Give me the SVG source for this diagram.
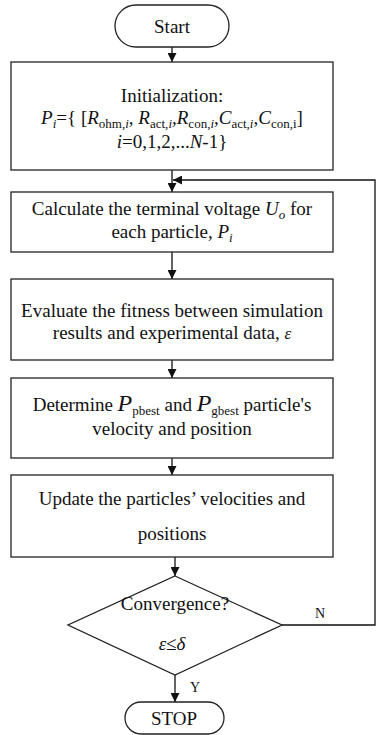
<svg xmlns="http://www.w3.org/2000/svg" width="376" height="735" viewBox="0 0 376 735" font-family="'Liberation Serif', 'Times New Roman', 'DejaVu Serif', serif">
<style>
.box{fill:#fff;stroke:#222;stroke-width:1.3}
.ln{fill:none;stroke:#111;stroke-width:1.3}
text{font-family:'Liberation Serif','Times New Roman','DejaVu Serif',serif;fill:#111;font-size:19px}
.c{text-anchor:middle}
.i{font-style:italic}
.s{font-size:13px}
.sm{font-size:14px}
</style>
<defs>
<marker id="ah" viewBox="0 0 10 10" refX="10" refY="5" markerWidth="9" markerHeight="9" markerUnits="userSpaceOnUse" orient="auto">
<path d="M0,0 L10,5 L0,10 Z" fill="#111"/>
</marker>
</defs>
<g id="connectors">
<line class="ln" x1="172" y1="47" x2="172" y2="62" marker-end="url(#ah)"/>
<line class="ln" x1="172" y1="170" x2="172" y2="192" marker-end="url(#ah)"/>
<polyline class="ln" points="282,625 375,625 375,180 173,180" marker-end="url(#ah)"/>
<line class="ln" x1="172" y1="252" x2="172" y2="279" marker-end="url(#ah)"/>
<line class="ln" x1="172" y1="360" x2="172" y2="378" marker-end="url(#ah)"/>
<line class="ln" x1="172" y1="458" x2="172" y2="475" marker-end="url(#ah)"/>
<line class="ln" x1="175" y1="557" x2="175" y2="576" marker-end="url(#ah)"/>
<line class="ln" x1="175" y1="675" x2="175" y2="702" marker-end="url(#ah)"/>
<text x="320" y="618" class="sm c">N</text>
<text x="195" y="692" class="sm c">Y</text>
</g>
<g id="start">
<rect class="box" x="115" y="5" width="114" height="42" rx="21"/>
<text x="172" y="33" class="c">Start</text>
</g>
<g id="init">
<rect class="box" x="11" y="62" width="322" height="108"/>
<text x="172" y="102" class="c">Initialization:</text>
<text x="172" y="124" class="c"><tspan class="i">P</tspan><tspan class="s i" dy="4">i</tspan><tspan dy="-4">={ [</tspan><tspan class="i">R</tspan><tspan class="s" dy="4">ohm,</tspan><tspan class="s i">i</tspan><tspan dy="-4">, </tspan><tspan class="i">R</tspan><tspan class="s" dy="4">act,</tspan><tspan class="s i">i</tspan><tspan dy="-4">,</tspan><tspan class="i">R</tspan><tspan class="s" dy="4">con,</tspan><tspan class="s i">i</tspan><tspan dy="-4">,</tspan><tspan class="i">C</tspan><tspan class="s" dy="4">act,</tspan><tspan class="s i">i</tspan><tspan dy="-4">,</tspan><tspan class="i">C</tspan><tspan class="s" dy="4">con,i</tspan><tspan dy="-4">]</tspan></text>
<text x="172" y="148" class="c"><tspan class="i">i</tspan>=0,1,2,...<tspan class="i">N</tspan>-1}</text>
</g>
<g id="calc">
<rect class="box" x="11" y="192" width="322" height="60"/>
<text x="172" y="215" class="c">Calculate the terminal voltage <tspan class="i">U</tspan><tspan class="s i" dy="4">o</tspan><tspan dy="-4"> for</tspan></text>
<text x="172" y="238" class="c">each particle, <tspan class="i">P</tspan><tspan class="s i" dy="4">i</tspan></text>
</g>
<g id="evaluate">
<rect class="box" x="11" y="279" width="322" height="81"/>
<text x="172" y="317" class="c">Evaluate the fitness between simulation</text>
<text x="172" y="339" class="c">results and experimental data,  <tspan class="i" font-size="17">ε</tspan></text>
</g>
<g id="determine">
<rect class="box" x="11" y="378" width="322" height="80"/>
<text x="172" y="411" class="c">Determine <tspan class="i" font-size="24">P</tspan><tspan class="s" dy="4">pbest</tspan><tspan dy="-4"> and </tspan><tspan class="i" font-size="24">P</tspan><tspan class="s" dy="4">gbest</tspan><tspan dy="-4"> particle's</tspan></text>
<text x="172" y="435" class="c">velocity and position</text>
</g>
<g id="update">
<rect class="box" x="11" y="475" width="322" height="82"/>
<text x="172" y="505" class="c">Update the particles’ velocities and</text>
<text x="172" y="540" class="c">positions</text>
</g>
<g id="convergence">
<polygon class="box" points="175,576 282,625 175,675 68,625"/>
<text x="175" y="610" class="c" font-size="13.5">Convergence?</text>
<text x="172" y="650" class="c i" font-size="21">ε≤δ</text>
</g>
<g id="stop">
<rect class="box" x="125" y="702" width="99" height="32" rx="16"/>
<text x="174" y="725" class="c">STOP</text>
</g>
</svg>
